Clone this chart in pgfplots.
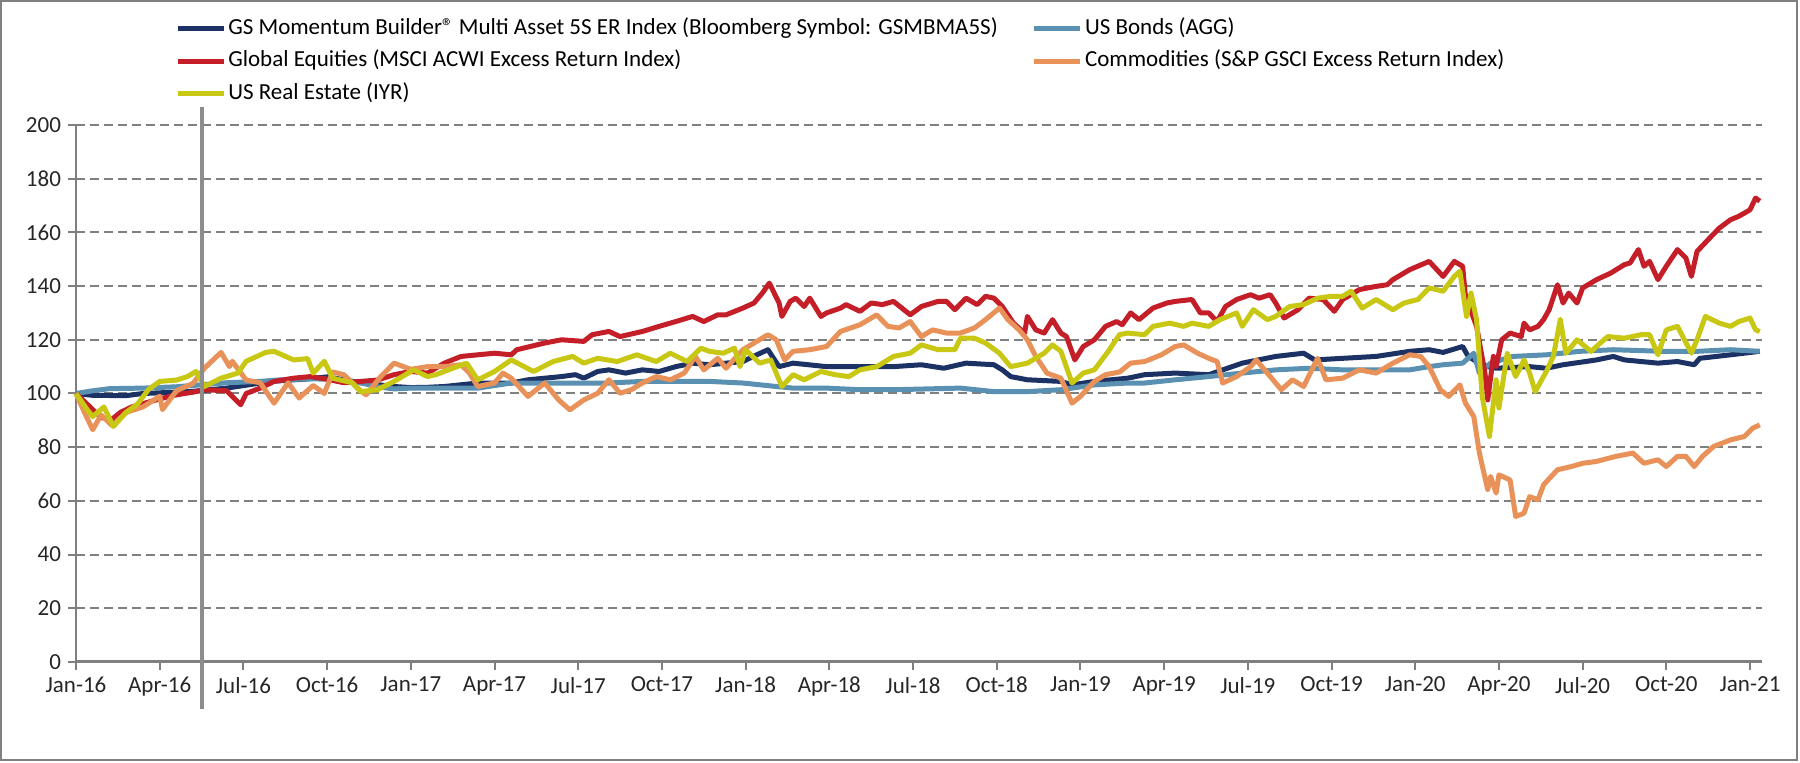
\documentclass[border=0pt]{standalone}
\usepackage{fontspec}
\setmainfont{Carlito}
\usepackage{pgfplots}
\pgfplotsset{compat=1.18}

\definecolor{gsnavy}{RGB}{28,50,100}
\definecolor{bondblue}{RGB}{90,145,178}
\definecolor{eqred}{RGB}{196,30,40}
\definecolor{comorange}{RGB}{232,146,90}
\definecolor{reyellow}{RGB}{200,200,20}
\definecolor{framegray}{RGB}{128,128,128}

\begin{document}
\begin{tikzpicture}
\useasboundingbox (-38pt,-50.5pt) rectangle (862pt,331pt);
\draw[framegray, line width=1.25pt] (-37.4pt,-49.0pt) rectangle (860.6pt,330.4pt);
\begin{axis}[
    scale only axis,
    width=843pt, height=268.5pt,
    xmin=0, xmax=60.43,
    ymin=0, ymax=200,
    axis lines*=left,
    x axis line style={framegray, line width=1.5pt},
    y axis line style={framegray, line width=1pt},
    xtick={0,3,...,60},
    xticklabels={Jan-16,Apr-16,Jul-16,Oct-16,Jan-17,Apr-17,Jul-17,Oct-17,Jan-18,Apr-18,Jul-18,Oct-18,Jan-19,Apr-19,Jul-19,Oct-19,Jan-20,Apr-20,Jul-20,Oct-20,Jan-21},
    ytick={0,20,...,200},
    tick align=outside,
    major tick length=4pt,
    tick style={framegray, line width=1pt},
    ymajorgrids=true,
    grid style={framegray, line width=1pt, dash pattern=on 4.5pt off 2.5pt},
    tick label style={font=\fontsize{11.5}{13}\selectfont, text=black!85},
    /pgf/number format/assume math mode=true,
    clip=false,
    legend columns=2,
    legend cell align=left,
    legend image code/.code={\draw[#1, line width=2.6pt] (0pt,0pt) -- (23pt,0pt);},
    legend style={draw=none, fill=none, at={(0.055,1.211)}, anchor=north west,
        font=\fontsize{11.5}{13}\selectfont,
        nodes={inner sep=1pt, text height=8pt, text depth=2.5pt},
        row sep=3.8pt,
        /tikz/column 2/.style={column sep=16pt}},
    every axis plot/.append style={line width=2.5pt, line join=round},
]

% GS Momentum Builder Multi Asset 5S ER
\addplot[gsnavy] coordinates {
(0,100)(0.6,99.3)(1.8,99.2)(2.4,100)(3.6,100.5)(4.2,100.8)(5.4,102)(7.0,104.5)(8.4,105.5)(9.0,106.2)(10.2,104)(11.4,102.6)(12.0,102.2)(12.6,102.3)
(13.2,102.6)(14.4,103.9)(15.6,103.9)(16.2,105.1)(16.8,105.7)(17.4,106.3)(17.9,107)(18.2,105.7)(18.7,108.2)(19.1,108.8)(19.7,107.6)(20.3,108.8)(20.9,108.2)(21.5,110)(22.1,111.3)(22.7,110.7)(23.3,111.3)(23.9,111.9)(24.4,114.4)(24.8,116.3)
(25.2,110)(25.7,111.3)(26.9,110)(28.1,110)(29.3,110)(30.3,110.7)(31.1,109.4)(31.9,111.3)(32.9,110.7)(33.2,108.8)(33.5,106.3)(34.1,105.1)(35.3,104.5)(35.7,103.2)(36.5,104.5)(37.7,105.7)
(38.3,107)(39.4,107.6)(40.6,107)(41.8,111.3)(43.0,113.8)(44.0,115)(44.4,112.5)(45.4,113.1)(46.6,113.8)(47.8,115.7)(48.5,116.3)(49.0,115.3)(49.7,117.5)(49.9,113.8)
(50.2,111.9)(50.6,110)(50.9,109.4)(52.1,110)(52.7,109.4)(53.3,110.7)(54.5,112.5)(55.1,113.8)(55.5,112.5)(56.7,111.3)(57.4,111.9)(58.0,110.7)(58.2,113.1)(59.3,114.4)(60.35,115.7)
};
\addlegendentry{GS Momentum Builder® Multi Asset 5S ER Index (Bloomberg Symbol: GSMBMA5S)}

% US Bonds (AGG)
\addplot[bondblue] coordinates {
(0,100)(0.6,101)(1.2,101.8)(2.4,102)(3.6,102.5)(4.2,103)(5.4,104)(6.6,104.5)(7.2,105)(8.4,105.5)(9.0,105.3)(10.2,104)(10.8,102.5)(11.4,101.7)(12.0,102)(14.4,102)
(15.6,103.9)(17.0,103.9)(18.0,103.9)(19.1,103.9)(20.3,104.5)(21.5,104.5)(22.7,104.5)(23.9,103.9)(25.1,102.6)(25.7,102)(26.9,102)(28.1,101.4)(29.3,101.4)(31.7,102)
(32.9,100.7)(34.1,100.7)(35.3,101.4)(36.5,103.2)(37.7,103.9)(38.3,103.9)(39.4,105.1)(40.6,106.3)(41.8,107.6)(43.0,108.8)(44.2,109.4)(45.4,108.8)(46.6,108.8)(47.8,108.8)
(48.5,110)(49.0,110.7)(49.7,111.3)(50.1,115)(50.3,107.6)(50.7,111.3)(51.5,113.8)(52.7,114.4)(53.9,115.7)(55.1,116.3)(56.9,115.7)(58.1,115.7)(59.3,116.3)(60.35,115.7)
};
\addlegendentry{US Bonds (AGG)}

% Global Equities (MSCI ACWI ER)
\addplot[eqred] coordinates {
(0,100)(0.5,95)(0.9,91)(1.3,90.5)(1.6,93)(2.0,95)(2.5,96.5)(3.0,98)(3.6,99.5)(4.2,100.5)(4.6,101.4)(5.4,101)(5.9,95.8)(6.1,100)(6.6,102)(7.1,104.5)(7.8,105.7)(8.4,106.3)(9.0,105.3)(9.6,104)(10.2,104.5)(10.8,105)(11.4,107)(12.0,108.2)(12.6,107.6)
(13.2,111.3)(13.8,113.8)(14.4,114.4)(15.0,115)(15.6,114.4)(15.8,116.3)(16.8,118.8)(17.4,120)(18.2,119.4)(18.5,121.9)(19.1,123.1)(19.5,121.2)(20.3,123.1)(20.9,125)(21.5,126.8)(22.1,128.7)(22.5,126.8)(23.0,129.3)(23.3,129.3)(23.9,131.8)(24.3,133.7)(24.6,137.4)(24.85,141.1)
(25.2,133.7)(25.3,128.7)(25.6,134.3)(25.8,135.5)(26.1,132.4)(26.3,135.5)(26.7,128.7)(26.9,130)(27.4,131.8)(27.6,133.1)(28.1,130.6)(28.5,133.7)(28.9,133.1)(29.3,134.3)(29.9,129.3)(30.3,132.4)(30.9,134.3)(31.2,134.3)(31.5,131.2)(31.9,135.5)(32.3,133.1)(32.6,136.2)(32.9,135.5)(33.2,132.4)(33.6,126.2)(34.0,122.5)(34.1,128.7)(34.4,123.7)(34.7,122.5)(35.0,127.5)(35.3,122.5)(35.5,121.2)(35.8,112.5)(36.1,117.5)(36.5,120)(36.9,125)(37.3,126.8)
(37.5,125.6)(37.8,130)(38.1,127.5)(38.6,131.8)(39.1,133.7)(39.4,134.3)(40.0,135)(40.3,130)(40.6,130)(40.9,126.8)(41.2,132.4)(41.6,135)(42.1,136.8)(42.4,135.5)(42.8,136.8)(43.0,133.7)(43.3,128.1)(43.8,131.2)(44.2,135.5)(44.7,135)(45.1,130.6)(45.4,135)(46.0,138.7)(46.6,139.9)(47.0,140.5)(47.2,142.4)(47.8,146.1)(48.5,149.2)(49.0,143.6)(49.4,149.2)(49.7,147.4)
(49.8,136.2)(50.2,125)(50.5,107.6)(50.6,97.6)(50.8,113.8)(50.9,110)(51.1,120)(51.4,122.5)(51.8,121.2)(51.9,126.2)(52.1,123.7)(52.4,125)(52.6,127.5)(52.8,131.2)(53.1,140.5)(53.3,133.7)(53.5,137.4)(53.8,133.7)(54.0,139.3)(54.5,142.4)(55.0,144.8)(55.5,148)(55.7,148.6)(56.0,153.6)(56.2,147.4)(56.4,149.2)(56.7,142.4)(57.0,147.4)(57.4,153.6)(57.7,150.5)(57.9,143.6)(58.1,152.9)(58.5,157.3)(58.9,161.6)(59.3,164.7)(59.6,166)(60.0,168.4)(60.2,172.8)(60.35,171.6)
};
\addlegendentry{Global Equities (MSCI ACWI Excess Return Index)}

% Commodities (S&P GSCI ER)
\addplot[comorange] coordinates {
(0,100)(0.3,93)(0.6,86.5)(0.9,92)(1.3,88)(1.8,93)(2.4,95)(3.0,99)(3.1,94)(3.6,101)(4.2,103.8)(4.6,109.4)(5.2,115.3)(5.5,110)(5.6,112)(6.1,105)(6.6,104)(7.1,96.4)(7.6,104)(8.0,98.3)(8.5,103)(8.9,100)(9.2,108)(9.6,107)(10.2,101)(10.4,99.5)(10.9,106)(11.4,111.3)(12.0,109)(12.6,110)
(13.2,110)(13.8,110.7)(14.1,107.6)(14.4,102.6)(15.0,103.9)(15.3,107.6)(15.6,105.7)(16.2,98.9)(16.8,103.9)(17.3,97.6)(17.7,93.9)(18.2,97.6)(18.7,100.1)(19.1,105.1)(19.5,100.1)(19.9,101.4)(20.3,103.9)(20.8,106.3)(21.3,105.1)(21.8,107.6)(22.2,113.8)(22.5,108.8)(23.0,113.1)(23.3,109.4)(23.9,116.3)(24.4,119.4)(24.8,121.9)
(25.1,120)(25.4,112.5)(25.7,115.7)(26.3,116.3)(26.9,117.5)(27.4,123.1)(28.1,125.6)(28.7,129.3)(29.1,125)(29.5,124.4)(29.9,126.8)(30.3,121.2)(30.7,123.7)(31.2,122.5)(31.7,122.5)(32.2,124.4)(32.6,127.5)(33.1,131.8)(33.4,127.5)(33.8,123.7)(34.1,120)(34.4,113.8)(34.8,107.6)(35.3,105.7)(35.7,96.4)(36.0,98.9)(36.5,104.5)(36.9,107)(37.4,108)
(37.8,111.3)(38.3,111.9)(38.9,114.4)(39.4,117.5)(39.7,118.1)(40.2,115)(40.6,113.1)(40.9,111.9)(41.1,103.9)(41.6,106.3)(42.1,110)(42.3,112.5)(42.7,107.6)(43.2,101.4)(43.6,105.1)(44.0,102.6)(44.5,113.1)(44.8,105.1)(45.4,105.7)(46.0,108.8)(46.6,107.6)(47.2,111.3)(47.8,114.4)(48.2,113.8)
(48.5,110)(48.9,101.4)(49.2,98.9)(49.6,103.2)(49.8,96.4)(50.1,91.4)(50.3,77.8)(50.6,64.1)(50.7,69.1)(50.9,62.9)(51.0,69.7)(51.4,67.8)(51.6,54.2)(51.9,55.4)(52.1,61.6)(52.4,60.4)(52.6,66)(53.1,71.6)(53.6,72.8)(54.0,74)(54.5,74.7)(55.2,76.6)(55.8,77.8)(56.2,74)(56.7,75.3)(57.0,72.8)(57.4,76.6)(57.7,76.6)(58.0,72.8)(58.3,76.6)(58.7,80.3)(59.3,82.7)(59.8,84)(60.1,87.1)(60.35,88.3)
};
\addlegendentry{Commodities (S\&P GSCI Excess Return Index)}

% US Real Estate (IYR)
\addplot[reyellow] coordinates {
(0,100)(0.4,94)(0.6,91.4)(1.0,95)(1.34,87.7)(1.8,93)(2.2,96)(2.6,101.5)(3.0,104.5)(3.6,105)(4.0,106.3)(4.3,108.2)(4.6,102.6)(5.2,105.7)(5.8,107.6)(6.1,112)(6.8,115.3)(7.1,115.7)(7.8,112.5)(8.3,113)(8.5,107.6)(8.9,112)(9.2,105.7)(9.9,104)(10.2,100.7)(10.8,101.4)(11.4,104.5)(12.1,108.8)(12.6,106.3)
(12.9,107)(13.5,109.4)(14.0,111.3)(14.4,105.1)(15.0,108.2)(15.6,112.5)(16.4,108.2)(17.1,111.9)(17.8,113.8)(18.2,111.3)(18.7,113.1)(19.4,111.9)(20.1,114.4)(20.8,111.9)(21.3,115)(21.9,111.9)(22.4,116.9)(22.7,115.7)(23.2,115)(23.6,116.9)(23.8,110)(24.0,116.3)(24.5,111.3)(24.9,112.5)(25.3,102.6)
(25.7,107)(26.1,105.1)(26.7,108.2)(27.2,107)(27.7,106.3)(28.1,108.8)(28.7,110)(29.3,113.8)(29.9,115)(30.3,118.1)(30.9,116.3)(31.5,116.3)(31.7,120.6)(32.2,120.6)(32.6,118.8)(33.1,115)(33.5,110)(34.1,111.3)(34.7,115)(35.0,118.1)(35.3,115.7)(35.7,103.9)(36.1,107.6)(36.5,108.8)(37.0,115.7)(37.4,121.9)(37.7,122.5)
(38.3,121.9)(38.6,125)(39.2,126.2)(39.7,125)(40.0,126.2)(40.6,125)(41.0,127.5)(41.6,130)(41.8,125)(42.2,131.2)(42.7,127.5)(43.0,128.7)(43.5,132.4)(44.0,133.1)(44.5,135.5)(45.0,136.2)(45.4,136.2)(45.7,138.1)(46.1,131.8)(46.6,135)(47.2,131.2)(47.6,133.7)(48.1,135)(48.5,139.3)(49.0,138.1)(49.4,143.6)(49.6,145.5)
(49.84,128.7)(50.0,137.4)(50.2,127.5)(50.4,98.9)(50.66,84)(50.9,105.1)(51.0,94.6)(51.3,115)(51.6,106.3)(51.9,112.5)(52.1,107.6)(52.3,100.7)(52.7,108.2)(52.95,113.8)(53.2,127.5)(53.4,115)(53.8,120)(54.3,115.7)(54.9,121.2)(55.5,120.6)(56.1,121.9)(56.4,121.9)(56.7,114.4)(57.0,123.7)(57.4,125)(57.9,115)(58.1,120)(58.4,128.7)(58.9,126.2)(59.3,125)(59.6,126.8)(60.0,128.1)(60.2,123.7)(60.35,123.1)
};
\addlegendentry{US Real Estate (IYR)}

% vertical marker line
\draw[framegray!90, line width=2pt] (axis cs:4.5,-17.5) -- (axis cs:4.5,206.7);
\end{axis}
\end{tikzpicture}
\end{document}
